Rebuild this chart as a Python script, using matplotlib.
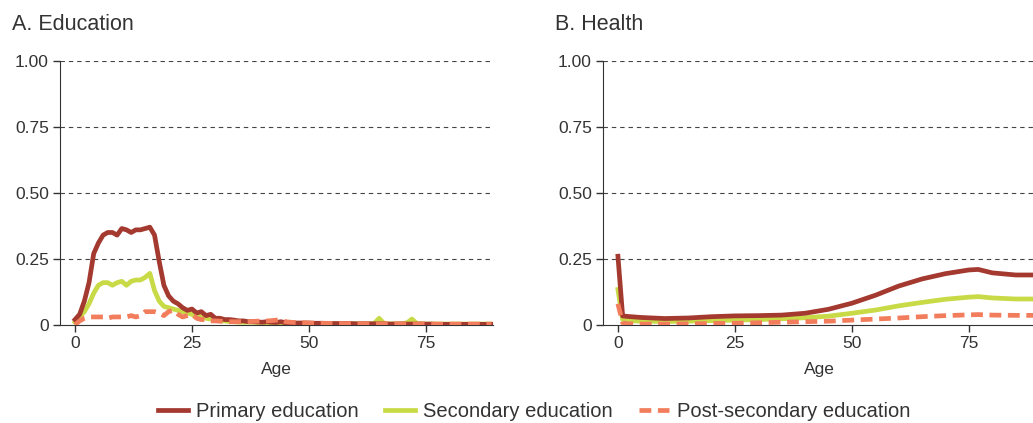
import numpy as np
import matplotlib.pyplot as plt

plt.rcParams['font.family'] = ['Liberation Sans', 'DejaVu Sans']
plt.rcParams['text.color'] = '#333333'
plt.rcParams['axes.labelcolor'] = '#333333'
plt.rcParams['xtick.color'] = '#333333'
plt.rcParams['ytick.color'] = '#333333'

# Panel A: education, by single year of age
edu_age = np.arange(0, 90)
edu_primary = [
    0.02, 0.04, 0.09, 0.16, 0.27, 0.31, 0.34, 0.35, 0.35, 0.34,
    0.365, 0.36, 0.35, 0.36, 0.36, 0.365, 0.37, 0.34, 0.24, 0.15,
    0.11, 0.09, 0.08, 0.065, 0.055, 0.06, 0.045, 0.05, 0.035, 0.04,
    0.025, 0.025, 0.02, 0.02, 0.018, 0.015, 0.015, 0.012, 0.012, 0.011,
    0.01, 0.012, 0.01, 0.009, 0.012, 0.008, 0.008, 0.007, 0.007, 0.007,
    0.007, 0.006, 0.006, 0.006, 0.005, 0.005, 0.005, 0.005, 0.005, 0.005,
    0.004, 0.004, 0.004, 0.004, 0.004, 0.004, 0.004, 0.003, 0.003, 0.003,
    0.003, 0.003, 0.003, 0.003, 0.003, 0.003, 0.003, 0.002, 0.002, 0.002,
    0.002, 0.002, 0.002, 0.002, 0.002, 0.002, 0.002, 0.002, 0.002, 0.002,
]
edu_secondary = [
    0.01, 0.03, 0.05, 0.08, 0.12, 0.15, 0.16, 0.16, 0.15, 0.16,
    0.165, 0.15, 0.165, 0.17, 0.17, 0.18, 0.195, 0.13, 0.09, 0.07,
    0.065, 0.06, 0.055, 0.05, 0.045, 0.04, 0.035, 0.03, 0.025, 0.022,
    0.02, 0.015, 0.015, 0.012, 0.012, 0.01, 0.01, 0.01, 0.01, 0.009,
    0.009, 0.008, 0.008, 0.008, 0.007, 0.007, 0.006, 0.006, 0.006, 0.006,
    0.005, 0.005, 0.005, 0.005, 0.005, 0.004, 0.004, 0.004, 0.004, 0.004,
    0.004, 0.004, 0.004, 0.004, 0.006, 0.025, 0.006, 0.004, 0.004, 0.004,
    0.005, 0.008, 0.022, 0.006, 0.004, 0.003, 0.003, 0.003, 0.003, 0.003,
    0.003, 0.003, 0.003, 0.003, 0.003, 0.003, 0.003, 0.003, 0.003, 0.003,
]
edu_post = [
    0.0, 0.015, 0.025, 0.03, 0.03, 0.03, 0.03, 0.025, 0.03, 0.03,
    0.03, 0.03, 0.035, 0.03, 0.035, 0.05, 0.05, 0.05, 0.045, 0.035,
    0.05, 0.055, 0.04, 0.03, 0.035, 0.04, 0.025, 0.02, 0.02, 0.015,
    0.015, 0.014, 0.013, 0.012, 0.012, 0.012, 0.012, 0.012, 0.013, 0.014,
    0.015, 0.015, 0.016, 0.018, 0.02, 0.012, 0.01, 0.009, 0.008, 0.008,
    0.007, 0.007, 0.006, 0.006, 0.006, 0.005, 0.005, 0.005, 0.005, 0.005,
    0.004, 0.004, 0.004, 0.004, 0.004, 0.004, 0.004, 0.004, 0.004, 0.004,
    0.004, 0.004, 0.003, 0.003, 0.003, 0.003, 0.003, 0.003, 0.003, 0.003,
    0.003, 0.003, 0.003, 0.003, 0.003, 0.003, 0.003, 0.003, 0.003, 0.003,
]

# Panel B: health
hlt_age = [0, 1, 2, 5, 10, 15, 20, 25, 30, 35, 40, 45, 50, 55, 60, 65, 70, 75, 77, 80, 85, 90]
hlt_primary = [0.26, 0.034, 0.032, 0.028, 0.024, 0.026, 0.031, 0.034, 0.035, 0.037, 0.044,
               0.059, 0.082, 0.112, 0.147, 0.174, 0.194, 0.208, 0.21, 0.197, 0.189, 0.189]
hlt_secondary = [0.134, 0.02, 0.016, 0.014, 0.013, 0.014, 0.016, 0.018, 0.02, 0.023, 0.027,
                 0.033, 0.044, 0.056, 0.072, 0.085, 0.097, 0.105, 0.107, 0.102, 0.098, 0.098]
hlt_post = [0.08, 0.008, 0.004, 0.003, 0.003, 0.004, 0.005, 0.006, 0.008, 0.01, 0.012,
            0.014, 0.018, 0.022, 0.026, 0.031, 0.035, 0.038, 0.039, 0.037, 0.036, 0.036]

labels = ['Primary education', 'Secondary education', 'Post-secondary education']
colors = ['#A3392F', '#C8DA46', '#F27D5C']
yticks = [0, 0.25, 0.5, 0.75, 1.0]
ytick_labels = ['0', '0.25', '0.50', '0.75', '1.00']

fig = plt.figure(figsize=(10.33, 4.23), dpi=100)
ax1 = fig.add_axes([0.0581, 0.232, 0.419, 0.624])
ax2 = fig.add_axes([0.5837, 0.232, 0.419, 0.624])

panels = [
    (ax1, 'A. Education', edu_age, [edu_primary, edu_secondary, edu_post]),
    (ax2, 'B. Health', hlt_age, [hlt_primary, hlt_secondary, hlt_post]),
]

for ax, title, x, series in panels:
    handles = []
    for i, (y, c) in enumerate(zip(series, colors)):
        if i == 2:
            h, = ax.plot(x, y, color=c, lw=3.4, dashes=[2.5, 1.4], zorder=3)
        else:
            h, = ax.plot(x, y, color=c, lw=3.4, solid_joinstyle='round', zorder=3 - i * 0.5)
        handles.append(h)
    ax.set_xlim(-3.2, 89.3)
    ax.set_ylim(0, 1.0)
    ax.set_xticks([0, 25, 50, 75])
    ax.set_yticks(yticks)
    ax.set_yticklabels(ytick_labels)
    ax.tick_params(labelsize=12.5, length=5, width=1, pad=3)
    for v in yticks[1:]:
        ax.axhline(v, color='#444444', lw=0.8, dashes=[4, 3.5], zorder=1)
    ax.spines['top'].set_visible(False)
    ax.spines['right'].set_visible(False)
    ax.spines['left'].set_color('#333333')
    ax.spines['bottom'].set_color('#333333')
    ax.set_xlabel('Age', fontsize=12.5, labelpad=8)
    ax.text(-0.11, 1.10, title, transform=ax.transAxes, fontsize=15.5,
            ha='left', va='bottom')

fig.legend(handles, labels, loc='center', bbox_to_anchor=(0.517, 0.028), ncol=3,
           frameon=False, fontsize=14.5, handlelength=1.5, columnspacing=1.3,
           handletextpad=0.4)

fig.savefig('out.png', dpi=100)
